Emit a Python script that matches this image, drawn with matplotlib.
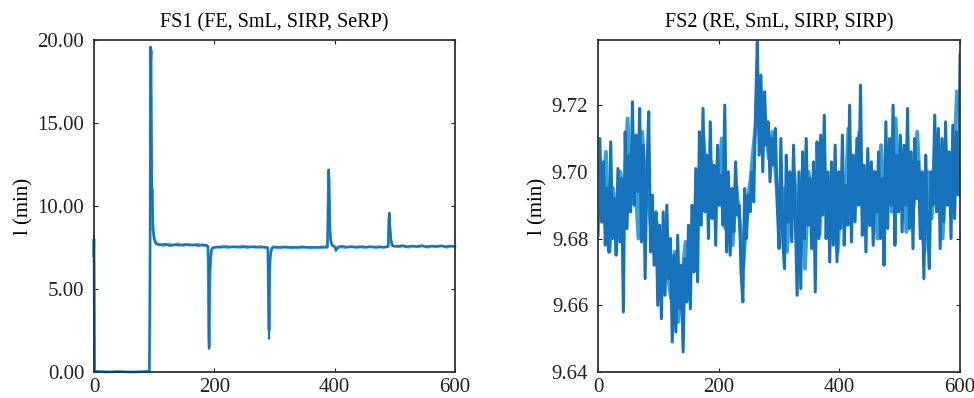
import matplotlib.pyplot as plt
from matplotlib.ticker import FormatStrFormatter

plt.rcParams['font.family'] = ['Liberation Serif', 'DejaVu Serif']

dark = '#1672bb'
light = '#36a2da'

# FS1 - dark trace
t1_dark = [0, 1, 10, 30, 50, 70, 90, 92, 93, 94, 95, 96, 97, 98, 99, 100, 102, 104,
           110, 118, 126, 134, 142, 150, 158, 166, 174, 182, 188, 190, 191, 192, 194, 196,
           204, 212, 220, 228, 236, 244, 252, 260, 268, 276, 284, 289, 290, 291, 292, 294, 296,
           304, 312, 320, 328, 336, 344, 352, 360, 368, 376, 384, 388, 389, 390, 391, 392, 394, 396,
           400, 402, 406, 414, 422, 430, 438, 446, 454, 462, 470, 478, 486, 489, 490, 491, 492, 494, 496,
           504, 512, 520, 528, 536, 544, 552, 560, 568, 576, 584, 592, 600]
v1_dark = [8.2, 0.0, 0.02, 0.0, 0.01, 0.0, 0.02, 0.0, 6.0, 19.6, 16.0, 12.5, 10.0, 8.9, 8.3, 8.0, 7.8, 7.7,
           7.65, 7.72, 7.6, 7.68, 7.62, 7.7, 7.63, 7.66, 7.6, 7.68, 7.62, 7.5, 1.4, 5.5, 7.0, 7.45,
           7.55, 7.5, 7.58, 7.52, 7.56, 7.5, 7.57, 7.53, 7.55, 7.5, 7.54, 7.5, 4.5, 2.0, 6.5, 7.2, 7.5,
           7.52, 7.5, 7.55, 7.48, 7.52, 7.5, 7.53, 7.49, 7.52, 7.5, 7.51, 7.5, 9.0, 12.2, 10.5, 8.6, 7.9, 7.6,
           7.55, 7.3, 7.55, 7.58, 7.52, 7.55, 7.5, 7.56, 7.52, 7.55, 7.5, 7.54, 7.52, 7.55, 8.5, 9.6, 8.8, 8.0, 7.6,
           7.58, 7.62, 7.55, 7.6, 7.56, 7.62, 7.55, 7.6, 7.57, 7.61, 7.55, 7.6, 7.56]

# FS1 - light trace
t1_light = [-1, 0, 1, 20, 40, 60, 80, 92, 93, 94, 95, 96, 97, 98, 100, 103,
            108, 116, 124, 132, 140, 148, 156, 164, 172, 180, 189, 190, 191, 192, 193, 195, 198,
            206, 214, 222, 230, 238, 246, 254, 262, 270, 278, 289, 290, 291, 292, 293, 295, 298,
            306, 314, 322, 330, 338, 346, 354, 362, 370, 378, 388, 389, 390, 391, 392, 393, 395, 398,
            404, 410, 418, 426, 434, 442, 450, 458, 466, 474, 482, 489, 490, 491, 492, 493, 495, 498,
            506, 514, 522, 530, 538, 546, 554, 562, 570, 578, 586, 594, 600]
v1_light = [7.0, 8.0, 0.05, 0.0, 0.03, 0.0, 0.02, 0.05, 3.0, 18.5, 19.4, 10.5, 11.0, 8.6, 8.1, 7.75,
            7.7, 7.62, 7.7, 7.64, 7.72, 7.62, 7.7, 7.65, 7.7, 7.64, 7.6, 6.5, 2.0, 1.5, 6.2, 7.3, 7.5,
            7.52, 7.56, 7.5, 7.55, 7.52, 7.58, 7.5, 7.55, 7.52, 7.56, 7.45, 5.0, 2.5, 5.8, 7.0, 7.4, 7.55,
            7.5, 7.54, 7.5, 7.53, 7.5, 7.55, 7.5, 7.52, 7.5, 7.53, 7.55, 10.0, 12.0, 11.5, 9.0, 8.0, 7.7, 7.6,
            7.45, 7.55, 7.5, 7.56, 7.52, 7.55, 7.5, 7.55, 7.52, 7.55, 7.5, 7.6, 9.2, 9.4, 8.5, 7.9, 7.7, 7.58,
            7.55, 7.6, 7.52, 7.58, 7.55, 7.6, 7.52, 7.58, 7.55, 7.6, 7.52, 7.58, 7.55]

# FS2 - dark trace, sampled every 3 steps
t2_dark = list(range(0, 600, 3)) + [600]
v2_dark = [9.681, 9.710, 9.685, 9.703, 9.678, 9.695, 9.676, 9.709, 9.680, 9.692,
           9.675, 9.701, 9.679, 9.698, 9.658, 9.712, 9.683, 9.705, 9.688, 9.721,
           9.690, 9.711, 9.694, 9.719, 9.679, 9.708, 9.668, 9.700, 9.718, 9.676,
           9.693, 9.672, 9.688, 9.660, 9.684, 9.656, 9.688, 9.663, 9.690, 9.668,
           9.680, 9.649, 9.675, 9.652, 9.681, 9.659, 9.672, 9.646, 9.674, 9.661,
           9.684, 9.659, 9.690, 9.670, 9.701, 9.667, 9.712, 9.684, 9.719, 9.688,
           9.705, 9.680, 9.715, 9.686, 9.702, 9.678, 9.708, 9.690, 9.699, 9.684,
           9.720, 9.676, 9.700, 9.675, 9.695, 9.682, 9.703, 9.687, 9.690, 9.670,
           9.661, 9.695, 9.680, 9.693, 9.688, 9.700, 9.691, 9.718, 9.739, 9.705,
           9.729, 9.700, 9.724, 9.708, 9.715, 9.697, 9.710, 9.702, 9.713, 9.690,
           9.677, 9.710, 9.680, 9.671, 9.705, 9.685, 9.700, 9.679, 9.708, 9.686,
           9.663, 9.700, 9.665, 9.706, 9.680, 9.710, 9.684, 9.698, 9.677, 9.703,
           9.664, 9.709, 9.680, 9.711, 9.687, 9.717, 9.680, 9.700, 9.673, 9.703,
           9.678, 9.708, 9.673, 9.700, 9.683, 9.711, 9.678, 9.696, 9.684, 9.720,
           9.679, 9.705, 9.685, 9.710, 9.690, 9.726, 9.681, 9.702, 9.676, 9.707,
           9.684, 9.703, 9.678, 9.700, 9.688, 9.706, 9.680, 9.698, 9.672, 9.715,
           9.683, 9.710, 9.690, 9.720, 9.678, 9.705, 9.688, 9.711, 9.682, 9.708,
           9.690, 9.719, 9.683, 9.706, 9.677, 9.710, 9.692, 9.703, 9.680, 9.700,
           9.668, 9.705, 9.685, 9.671, 9.700, 9.690, 9.717, 9.688, 9.713, 9.677,
           9.710, 9.685, 9.715, 9.690, 9.706, 9.680, 9.714, 9.686, 9.712, 9.693,
           9.735]

# FS2 - light trace, sampled every 6 steps
t2_light = list(range(1, 600, 6))
v2_light = [9.700, 9.685, 9.706, 9.676, 9.695, 9.684, 9.700, 9.690, 9.716, 9.692,
            9.700, 9.680, 9.712, 9.695, 9.689, 9.676, 9.685, 9.668, 9.683, 9.670,
            9.662, 9.676, 9.655, 9.668, 9.679, 9.662, 9.688, 9.680, 9.700, 9.710,
            9.692, 9.703, 9.688, 9.695, 9.710, 9.683, 9.692, 9.678, 9.696, 9.685,
            9.672, 9.690, 9.698, 9.710, 9.720, 9.706, 9.715, 9.704, 9.712, 9.698,
            9.684, 9.695, 9.676, 9.692, 9.700, 9.683, 9.696, 9.671, 9.700, 9.688,
            9.700, 9.681, 9.706, 9.690, 9.680, 9.699, 9.676, 9.696, 9.688, 9.713,
            9.690, 9.700, 9.712, 9.686, 9.696, 9.684, 9.700, 9.680, 9.708, 9.690,
            9.702, 9.688, 9.716, 9.694, 9.705, 9.682, 9.700, 9.690, 9.712, 9.689,
            9.676, 9.700, 9.686, 9.710, 9.692, 9.680, 9.705, 9.695, 9.700, 9.724]

fig = plt.figure(figsize=(9.74, 3.98), dpi=100)
ax1 = fig.add_axes([0.0965, 0.0653, 0.3706, 0.834])
ax2 = fig.add_axes([0.614, 0.0653, 0.3717, 0.834])

ax1.plot(t1_light, v1_light, color=light, lw=2.0, clip_on=False)
ax1.plot(t1_dark, v1_dark, color=dark, lw=1.5, clip_on=False)
ax1.set_xlim(0, 600)
ax1.set_ylim(0, 20)
ax1.set_yticks([0, 5, 10, 15, 20])
ax1.yaxis.set_major_formatter(FormatStrFormatter('%.2f'))
ax1.set_title('FS1 (FE, SmL, SIRP, SeRP)', fontsize=14.5, pad=9)

ax2.plot(t2_light, v2_light, color=light, lw=2.8)
ax2.plot(t2_dark, v2_dark, color=dark, lw=2.2)
ax2.set_xlim(0, 600)
ax2.set_ylim(9.64, 9.7395)
ax2.set_yticks([9.64, 9.66, 9.68, 9.70, 9.72])
ax2.yaxis.set_major_formatter(FormatStrFormatter('%.2f'))
ax2.set_title('FS2 (RE, SmL, SIRP, SIRP)', fontsize=14.5, pad=9)

for ax in (ax1, ax2):
    ax.set_xticks([0, 200, 400, 600])
    ax.set_ylabel('l (min)', fontsize=15, labelpad=3)
    ax.tick_params(direction='in', length=3, width=0.8, top=True, right=True,
                   labelsize=15, colors='#222222')
    ax.tick_params(axis='y', pad=7)
    ax.tick_params(axis='x', pad=4)
    for s in ax.spines.values():
        s.set_linewidth(1.3)
        s.set_color('#333333')

fig.savefig('out.png', dpi=100)
